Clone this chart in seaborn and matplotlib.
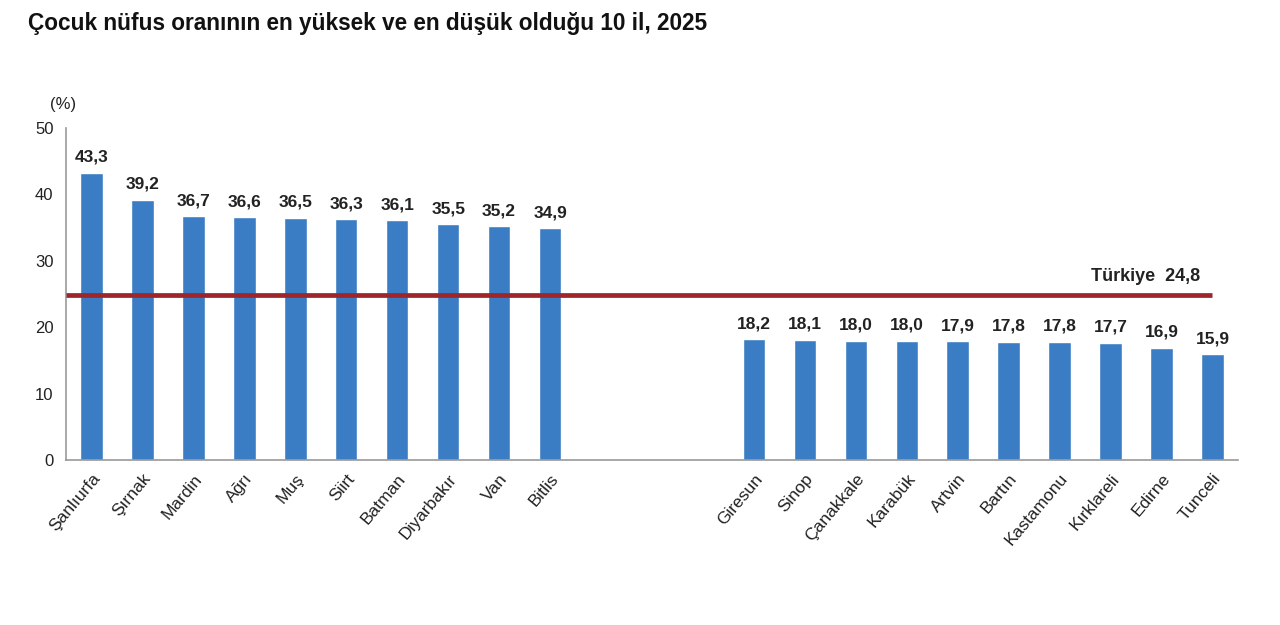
import numpy as np
import pandas as pd
import matplotlib.pyplot as plt
import seaborn as sns

# --- datos ---
iller_yuksek = ['Şanlıurfa', 'Şırnak', 'Mardin', 'Ağrı', 'Muş', 'Siirt',
                'Batman', 'Diyarbakır', 'Van', 'Bitlis']
oran_yuksek = [43.3, 39.2, 36.7, 36.6, 36.5, 36.3, 36.1, 35.5, 35.2, 34.9]
iller_dusuk = ['Giresun', 'Sinop', 'Çanakkale', 'Karabük', 'Artvin', 'Bartın',
               'Kastamonu', 'Kırklareli', 'Edirne', 'Tunceli']
oran_dusuk = [18.2, 18.1, 18.0, 18.0, 17.9, 17.8, 17.8, 17.7, 16.9, 15.9]
turkiye = 24.8

bosluk = ['_1', '_2', '_3']  # iki grup arasindaki bos yerler
df = pd.DataFrame({
    'il': iller_yuksek + bosluk + iller_dusuk,
    'oran': oran_yuksek + [np.nan] * 3 + oran_dusuk,
})

sns.set_style('white')
plt.rcParams['font.family'] = ['Liberation Sans', 'DejaVu Sans']

fig = plt.figure(figsize=(12.8, 6.25), dpi=100)
ax = fig.add_axes([0.0516, 0.264, 0.9155, 0.531])

sns.barplot(data=df, x='il', y='oran', order=df['il'], color='#3b7dc4',
            saturation=1, width=0.44, ax=ax)

# deger etiketleri
for i, v in enumerate(df['oran']):
    if pd.notna(v):
        ax.text(i, v + 1.2, f'{v:.1f}'.replace('.', ','), ha='center', va='bottom',
                fontsize=12.5, fontweight='bold', color='#222222')

# Türkiye ortalamasi
ax.plot([-0.5, len(df) - 1], [turkiye, turkiye], color='#9e2529', lw=3.4,
        solid_capstyle='butt', zorder=3)
ax.text(21.75, turkiye + 1.6, f'Türkiye  {turkiye:.1f}'.replace('.', ','),
        ha='right', va='bottom', fontsize=13, fontweight='bold', color='#222222')

ax.set_xlim(-0.5, len(df) - 0.5)
ax.set_ylim(0, 50)
ax.set_yticks([0, 10, 20, 30, 40, 50])
etiketler = [s if not s.startswith('_') else '' for s in df['il']]
ax.set_xticks(range(len(df)))
ax.set_xticklabels(etiketler, rotation=50, ha='right', rotation_mode='anchor',
                   fontsize=12.5, color='#222222')
ax.set_xticks(np.arange(-0.5, len(df), 1), minor=True)
ax.tick_params(axis='x', which='major', length=0, pad=8)
ax.tick_params(axis='x', which='minor', length=5, color='#888888', direction='out')
ax.tick_params(axis='y', length=5, color='#888888', direction='out', labelsize=12,
               labelcolor='#222222', pad=4)
ax.set_xlabel('')
ax.set_ylabel('')

for s in ['top', 'right']:
    ax.spines[s].set_visible(False)
for s in ['left', 'bottom']:
    ax.spines[s].set_color('#999999')
    ax.spines[s].set_linewidth(1.2)

ax.text(-0.55, 52.5, '(%)', ha='center', va='bottom', fontsize=12, color='#222222')

fig.text(0.022, 0.962, 'Çocuk nüfus oranının en yüksek ve en düşük olduğu 10 il, 2025',
         ha='left', va='center', fontsize=16.3, fontweight='bold', color='#111111')

plt.savefig('out.png', dpi=100, facecolor='white')
